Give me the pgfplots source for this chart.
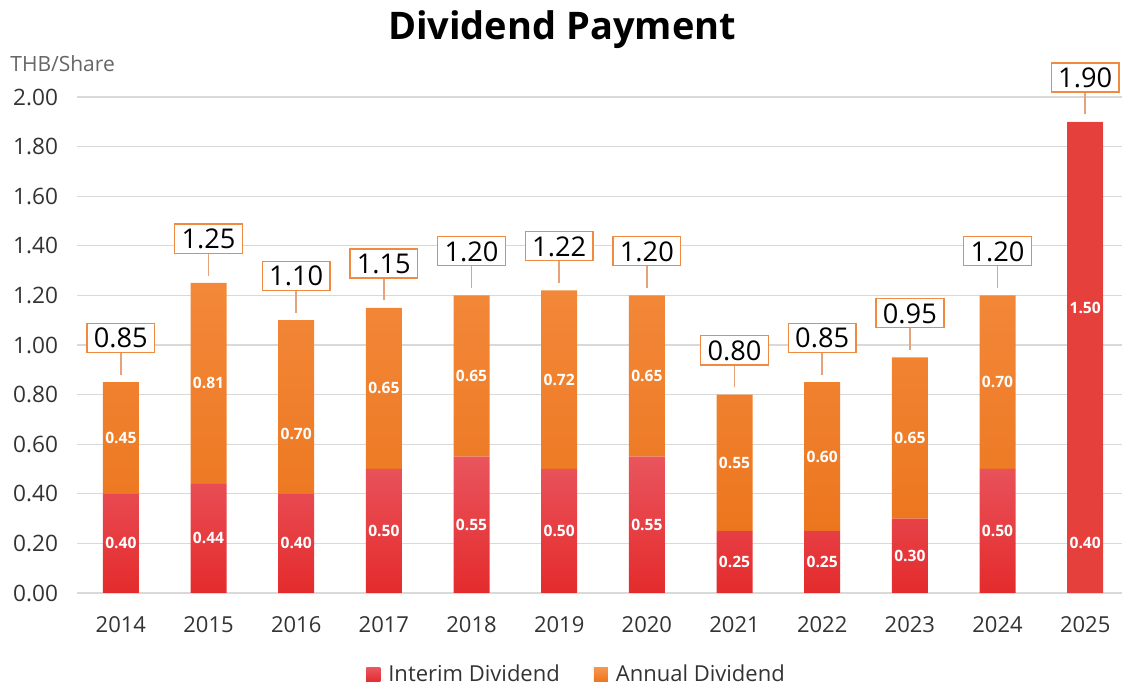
\documentclass[border=0pt]{standalone}
\usepackage{fontspec}
\setmainfont{Open Sans}
\usepackage{pgfplots}
\pgfplotsset{compat=1.18}
\usepackage{pgfplotstable}
\definecolor{intTop}{HTML}{E9555E}
\definecolor{intBot}{HTML}{E42B2C}
\definecolor{annTop}{HTML}{F7944C}
\definecolor{annBot}{HTML}{EC761E}
\definecolor{red25}{HTML}{E6403D}
\definecolor{boxor}{HTML}{F08A40}
\definecolor{lineor}{HTML}{E6A27A}
\definecolor{gridc}{HTML}{D9D9D9}
\definecolor{tickc}{HTML}{333333}

\pgfplotstableread{
x interim annual
0 0.40 0.45
1 0.44 0.81
2 0.40 0.70
3 0.50 0.65
4 0.55 0.65
5 0.50 0.72
6 0.55 0.65
7 0.25 0.55
8 0.25 0.60
9 0.30 0.65
10 0.50 0.70
11 0.40 1.50
}\divdata

\pgfplotstableread{
x tot
0 0.85
1 1.25
2 1.10
3 1.15
4 1.20
5 1.22
6 1.20
7 0.80
8 0.85
9 0.95
10 1.20
11 1.90
}\totdata

\pgfplotstableread{
x y lab
0 0.20 0.40
0 0.625 0.45
1 0.22 0.44
1 0.845 0.81
2 0.20 0.40
2 0.64 0.70
3 0.25 0.50
3 0.825 0.65
4 0.275 0.55
4 0.875 0.65
5 0.25 0.50
5 0.86 0.72
6 0.275 0.55
6 0.875 0.65
7 0.125 0.25
7 0.525 0.55
8 0.125 0.25
8 0.55 0.60
9 0.15 0.30
9 0.625 0.65
10 0.25 0.50
10 0.85 0.70
11 0.20 0.40
11 1.15 1.50
}\segdata

\begin{document}
\begin{tikzpicture}
\path[use as bounding box] (-38.5pt,-47.5pt) rectangle (522.5pt,296.5pt);
\pgfplotsset{
  common/.style={
    scale only axis, width=522.5pt, height=248pt,
    xmin=-0.5, xmax=11.42, ymin=0, ymax=2.0,
    at={(0pt,0pt)}, anchor=south west, clip=false,
  }
}
\begin{axis}[common,
  ybar stacked, bar width=18pt,
  axis line style={draw=none},
  major tick length=0pt,
  ymajorgrids, grid style={gridc, line width=0.6pt},
  ytick={0,0.2,0.4,0.6,0.8,1.0,1.2,1.4,1.6,1.8,2.0},
  yticklabel={\pgfmathprintnumber[fixed,fixed zerofill,precision=2]{\tick}},
  xtick={0,...,11},
  xticklabels={2014,2015,2016,2017,2018,2019,2020,2021,2022,2023,2024,2025},
  /pgf/number format/assume math mode=true,
  yticklabel style={font=\fontsize{11.3}{13}\selectfont, text=tickc, xshift=-6pt},
  xticklabel style={font=\fontsize{11}{13}\selectfont, text=tickc, yshift=-8pt},
  legend columns=2,
  legend style={draw=none, fill=none, at={(0.479,-0.165)}, anchor=center,
    font=\fontsize{11}{13}\selectfont, text=tickc,
    /tikz/every odd column/.append style={column sep=2pt},
    /tikz/every even column/.append style={column sep=15pt}},
]
\addplot[draw=none, bottom color=intBot, top color=intTop,
  legend image code/.code={\fill[red25] (0pt,-3.5pt) rectangle (7pt,3.5pt);}]
  table[x=x, y=interim] {\divdata};
\addlegendentry{Interim Dividend}
\addplot[draw=none, bottom color=annBot, top color=annTop,
  legend image code/.code={\fill[annTop!70!annBot] (0pt,-3.5pt) rectangle (7pt,3.5pt);}]
  table[x=x, y=annual] {\divdata};
\addlegendentry{Annual Dividend}
\end{axis}

\begin{axis}[common, hide axis]
\addplot[ybar, bar width=18pt, fill=red25, draw=none] coordinates {(11,1.90)};
\addplot[draw=none, mark=none, nodes near coords, point meta=explicit symbolic,
  nodes near coords style={anchor=center, text=white, font=\fontsize{7.8}{9}\selectfont\bfseries}]
  table[x=x, y=y, meta=lab] {\segdata};
\addplot[draw=none, mark=none, nodes near coords={\textcolor{lineor}{\rule{0.7pt}{11pt}}},
  nodes near coords style={anchor=south, yshift=3.5pt, inner sep=0pt}]
  table[x=x, y=tot] {\totdata};
\addplot[draw=none, mark=none, nodes near coords, point meta=explicit symbolic,
  nodes near coords style={anchor=south, yshift=14.5pt, draw=boxor, line width=0.7pt,
    fill=white, inner xsep=3.5pt, inner ysep=2.3pt, text height=10pt, text depth=0pt,
    text=black, font=\fontsize{13.6}{16}\selectfont}]
  table[x=x, y=tot, meta=tot] {\totdata};
\end{axis}

\node at (242.5pt,281.5pt) {\fontsize{19}{22}\selectfont\bfseries Dividend Payment};
\node[anchor=west, text=tickc!75, inner sep=0pt] at (-33.5pt,264.5pt) {\fontsize{10.5}{12}\selectfont THB/Share};
\end{tikzpicture}
\end{document}
